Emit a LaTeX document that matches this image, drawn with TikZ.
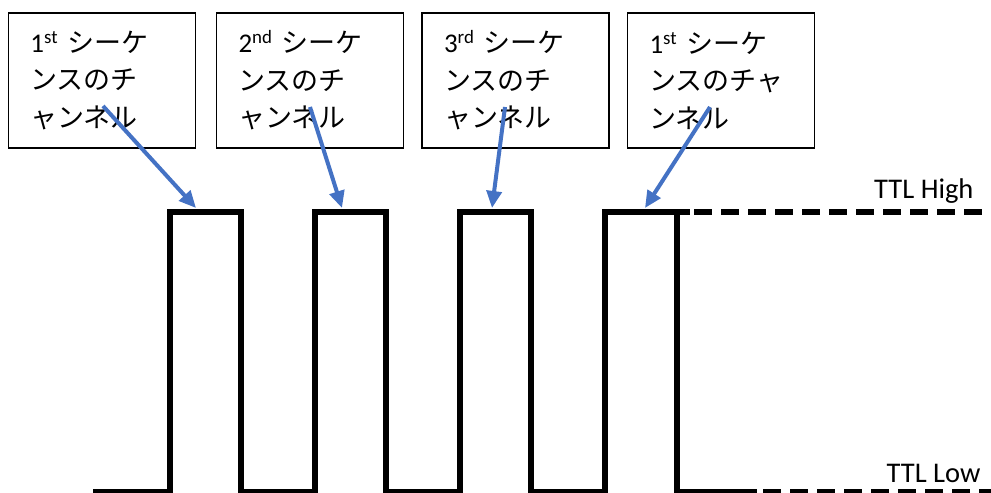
\documentclass[tikz,border=0pt]{standalone}
\usepackage{fontspec}
\setmainfont{Carlito}
\newfontfamily\jp{Noto Sans CJK JP}
\usepackage{tikz}
\usetikzlibrary{arrows.meta}
\definecolor{pointblue}{RGB}{68,114,196}

\begin{document}
\begin{tikzpicture}[x=1bp,y=-1bp,
    tagbox/.style={draw, line width=1.5bp, minimum width=187bp, minimum height=135bp,
        inner xsep=22bp, text width=143bp, align=left,
        font=\fontsize{27bp}{37.5bp}\selectfont},
    pulse/.style={line width=6bp},
    level/.style={line width=6bp, dash pattern=on 18bp off 9bp},
    pointer/.style={line width=4bp, pointblue, -{Triangle[length=17bp,width=15bp]}},
    lvl/.style={font=\fontsize{28.5bp}{32bp}\selectfont}]
    \useasboundingbox (0,0) rectangle (991,493);

    % Channel boxes
    \node[tagbox] (b1) at (102,80.5) {1\textsuperscript{st} {\jp シーケ}\\{\jp ンスのチ}\\{\jp ャンネル}};
    \node[tagbox] (b2) at (310,80.5) {2\textsuperscript{nd} {\jp シーケ}\\{\jp ンスのチ}\\{\jp ャンネル}};
    \node[tagbox] (b3) at (515.5,80.5) {3\textsuperscript{rd} {\jp シーケ}\\{\jp ンスのチ}\\{\jp ャンネル}};
    \node[tagbox] (b4) at (721,80.5) {1\textsuperscript{st} {\jp シーケ}\\{\jp ンスのチャ}\\{\jp ンネル}};

    % Pulse train
    \draw[pulse] (93,492) -- (170,492) -- (170,212) -- (241,212) -- (241,492)
        -- (315,492) -- (315,212) -- (386,212) -- (386,492)
        -- (460,492) -- (460,212) -- (531,212) -- (531,492)
        -- (605,492) -- (605,212) -- (677,212) -- (677,492) -- (757,492);
    \draw[pulse] (677,212) -- (690,212);

    % Levels
    \draw[level] (694,212) -- (986,212);
    \draw[level] (763,492) -- (991,492);
    \node[lvl, anchor=base east] (hi) at (977,199) {TTL High};
    \node[lvl, anchor=base east] (lo) at (984,482) {TTL Low};

    % Arrows to the pulses
    \coordinate (s1) at (103,106);
    \coordinate (s2) at (310,107);
    \coordinate (s3) at (505,107);
    \coordinate (s4) at (710,107);
    \coordinate (p1) at (196,208);
    \coordinate (p2) at (342,208);
    \coordinate (p3) at (492,208);
    \coordinate (p4) at (645,208);
    \draw[pointer] (s1) -- (p1);
    \draw[pointer] (s2) -- (p2);
    \draw[pointer] (s3) -- (p3);
    \draw[pointer] (s4) -- (p4);
\end{tikzpicture}
\end{document}
